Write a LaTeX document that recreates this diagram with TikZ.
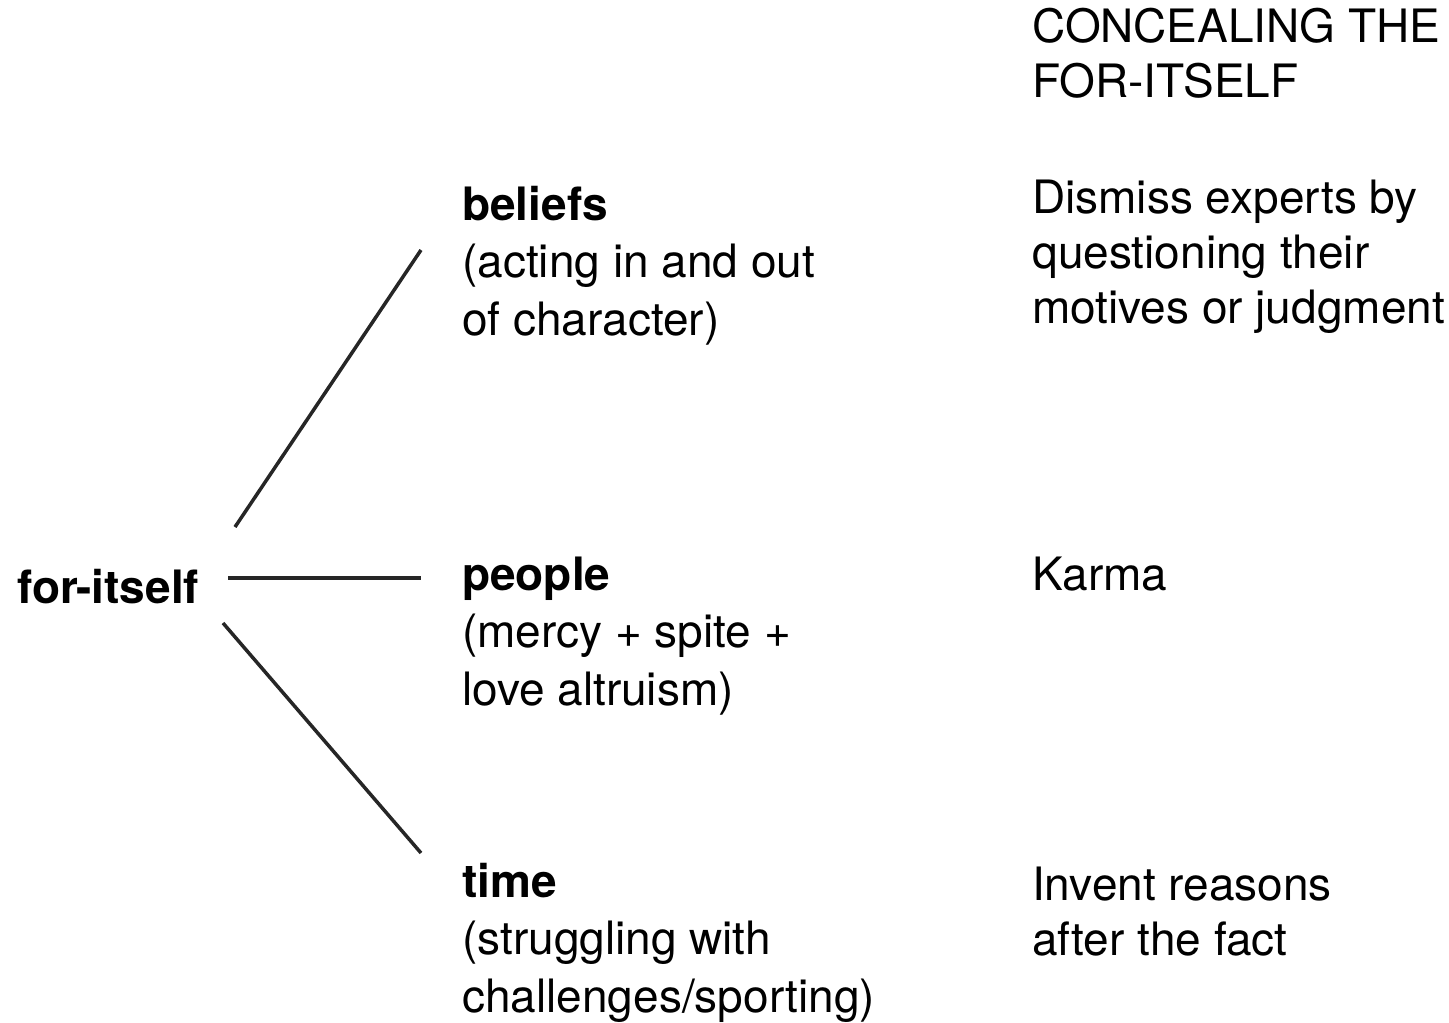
\documentclass[tikz,border=0pt]{standalone}
\usepackage{fontspec}
\setmainfont{TeX Gyre Heros}
\usetikzlibrary{positioning}

\begin{document}
\begin{tikzpicture}[x=1pt, y=-1pt]
	\tikzstyle{txt} = [anchor=base west, inner sep=0pt, align=left, font=\fontsize{46}{55}\selectfont]
	\tikzstyle{mid} = [txt, font=\fontsize{46}{57.5}\selectfont]
	\tikzstyle{link} = [line width=3.5pt, color=black!85]
	\useasboundingbox (0,0) rectangle (1449,1023);
	% left: the root
	\node[txt] (root) at (17,603) {\textbf{for-itself}};
	% middle column (placed at the baseline of the last line)
	\node[mid] (beliefs) at (462,335) {\textbf{beliefs}\\(acting in and out\\of character)};
	\node[mid] (people) at (462,705) {\textbf{people}\\(mercy + spite +\\love altruism)};
	\node[mid] (time) at (462,1012) {\textbf{time}\\(struggling with\\challenges/sporting)};
	% right column
	\node[txt] (head) at (1032,97) {CONCEALING THE\\FOR-ITSELF};
	\node[txt] (dismiss) at (1032,323) {Dismiss experts by\\questioning their\\motives or judgment};
	\node[txt] (karma) at (1032,590) {Karma};
	\node[txt] (invent) at (1032,955) {Invent reasons\\after the fact};
	% connectors
	\coordinate (b1) at (235,527);
	\coordinate (b2) at (421,250);
	\coordinate (p1) at (228,578);
	\coordinate (p2) at (421,578);
	\coordinate (t1) at (223,623);
	\coordinate (t2) at (421,853);
	\draw[link] (b1) -- (b2);
	\draw[link] (p1) -- (p2);
	\draw[link] (t1) -- (t2);
\end{tikzpicture}
\end{document}
